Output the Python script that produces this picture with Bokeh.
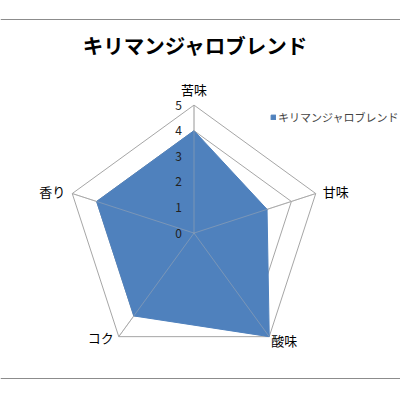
import numpy as np
from bokeh.plotting import figure
from bokeh.models import Range1d, ColumnDataSource, Span, Legend, LegendItem
from bokeh.core.properties import value
from bokeh.embed import file_html
from bokeh.resources import INLINE

title = "キリマンジャロブレンド"
series_name = "キリマンジャロブレンド"
categories = ["苦味", "甘味", "酸味", "コク", "香り"]
values = [4, 3, 5, 4, 4]
ticks = [0, 1, 2, 3, 4, 5]

FONT = "Noto Sans CJK JP"
FILL = "#4F81BD"
GRID = "#a6a6a6"

n = len(categories)
ang = np.pi / 2 - np.arange(n) * 2 * np.pi / n
rmax = max(ticks)

S = 25.6  # px per unit
cx, cy = 193.5, 232.6  # center in figure px
W = H = 400
p = figure(width=W, height=H,
           x_range=Range1d(-cx / S, (W - cx) / S),
           y_range=Range1d(-(H - cy) / S, cy / S),
           output_backend="svg", toolbar_location=None, min_border=0)
p.axis.visible = False
p.grid.visible = False
p.outline_line_color = None
p.background_fill_color = "white"

# frame lines
p.add_layout(Span(location=(cy - 19) / S, dimension="width", line_color="#8c8c8c", line_width=1.2))
p.add_layout(Span(location=(cy - 378) / S, dimension="width", line_color="#8c8c8c", line_width=1.2))

# grid pentagons
for t in ticks[1:]:
    xs = list(t * np.cos(ang)) + [t * np.cos(ang[0])]
    ys = list(t * np.sin(ang)) + [t * np.sin(ang[0])]
    p.line(xs, ys, line_color=GRID, line_width=1)

# spokes under
sx0 = [0] * n
sy0 = [0] * n
sx1 = list(rmax * np.cos(ang))
sy1 = list(rmax * np.sin(ang))
p.segment(sx0, sy0, sx1, sy1, line_color=GRID, line_width=1)

# series
vx = list(np.array(values) * np.cos(ang))
vy = list(np.array(values) * np.sin(ang))
r = p.patch(vx, vy, fill_color=FILL, line_color=FILL, line_width=1)

# spokes over fill
p.segment(sx0, sy0, sx1, sy1, line_color="#b0b0b0", line_alpha=0.45, line_width=1)

# tick labels
p.text(x=[0] * len(ticks), y=ticks, text=[str(t) for t in ticks],
       x_offset=-12, text_align="right", text_baseline="middle",
       text_font=value(FONT), text_font_size="12px", text_color="#222222")

# category labels
lab = ColumnDataSource(dict(
    x=sx1, y=sy1, text=categories,
    xo=[0, 7, 2, -5, -7], yo=[-16, -2, 4, 1, -2],
    al=["center", "left", "left", "right", "right"]))
p.text(x="x", y="y", text="text", source=lab, x_offset="xo", y_offset="yo",
       text_align="al", text_baseline="middle",
       text_font=value(FONT), text_font_size="13px", text_color="#000000")

# title
p.text(x=[(195 - cx) / S], y=[(cy - 44) / S], text=[title],
       text_align="center", text_baseline="middle",
       text_font=value(FONT), text_font_size="20.5px", text_font_style="bold",
       text_color="#000000")

legend = Legend(items=[LegendItem(label=series_name, renderers=[r])],
                location=(270, 275), orientation="vertical",
                glyph_width=6, glyph_height=6, label_height=12, label_standoff=2,
                padding=0, margin=0, spacing=0,
                label_text_font=FONT, label_text_font_size="11px",
                border_line_color=None, background_fill_alpha=0)
p.add_layout(legend)

open("out.html", "w").write(file_html(p, INLINE))
